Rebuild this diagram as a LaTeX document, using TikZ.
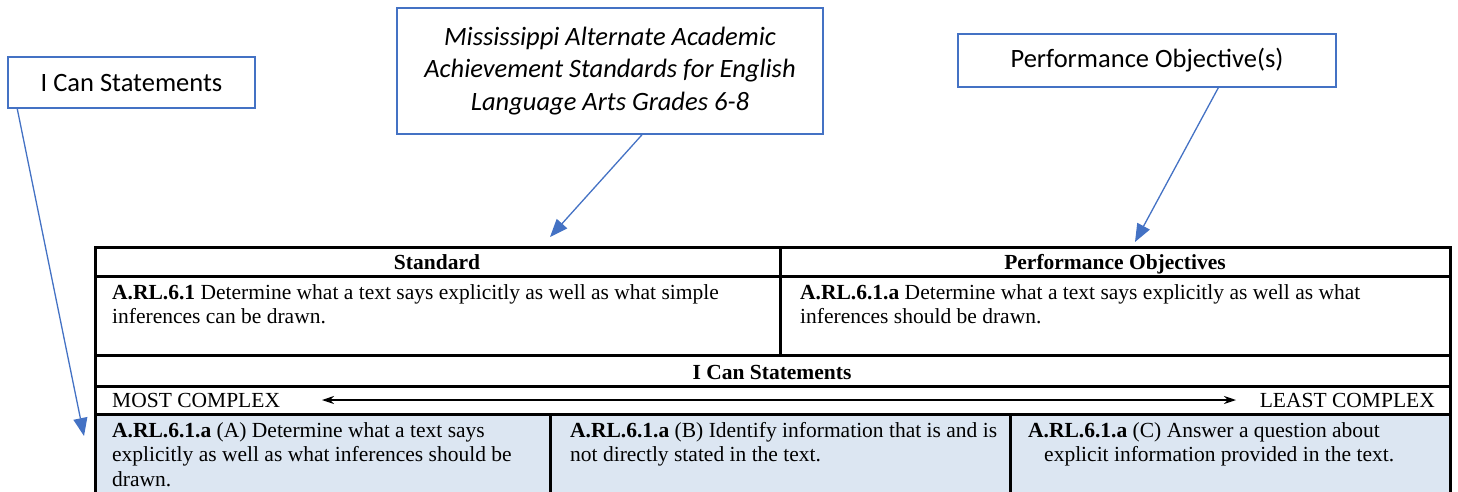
\documentclass[tikz,border=0pt]{standalone}
\usepackage{fontspec}
\setmainfont{Liberation Serif}
\newfontfamily\calibri{Carlito}
\usetikzlibrary{arrows.meta,calc}
\definecolor{callblue}{HTML}{4472C4}
\definecolor{cellblue}{HTML}{DCE6F2}
\begin{document}
\begin{tikzpicture}[x=1pt,y=-1pt,
  callout/.style={draw=callblue, line width=1.4pt, fill=white, inner sep=0pt, align=center,
    font=\calibri\fontsize{26.5}{32.5}\selectfont},
  pointer/.style={draw=callblue, line width=1.3pt, -{Triangle[length=18pt,width=14pt]}},
  rule/.style={line width=3pt},
  txt/.style={anchor=base west, inner sep=0pt, font=\fontsize{21.5}{24.5}\selectfont},
  head/.style={anchor=base, inner sep=0pt, font=\bfseries\fontsize{21.5}{24.5}\selectfont},
  span/.style={line width=1.2pt, {Stealth[length=12pt,width=8pt]}-{Stealth[length=12pt,width=8pt]}},
  ]
\useasboundingbox (0,0) rectangle (1458,491);
% table background and rules
\fill[cellblue] (95,414) rectangle (1450,500);
\draw[rule] (95,500) -- (95,247) -- (1450,247) -- (1450,500);
\draw[rule] (95,276) -- (1450,276);
\draw[rule] (95,355) -- (1450,355);
\draw[rule] (95,386) -- (1450,386);
\draw[rule] (95,414) -- (1450,414);
\draw[rule] (780,247) -- (780,355);
\draw[rule] (550,414) -- (550,500);
\draw[rule] (1010,414) -- (1010,500);
% headers
\node[head] (hstd) at (437,269) {Standard};
\node[head] (hpo) at (1115,269) {Performance Objectives};
\node[head] (hics) at (772,379) {I Can Statements};
% row 2
\node[txt] (s1) at (112,299) {\textbf{A.RL.6.1} Determine what a text says explicitly as well as what simple};
\node[txt] (s2) at (112,323.5) {inferences can be drawn.};
\node[txt] (p1) at (800,299) {\textbf{A.RL.6.1.a} Determine what a text says explicitly as well as what};
\node[txt] (p2) at (800,323.5) {inferences should be drawn.};
% complexity row
\node[txt] (most) at (112,407) {MOST COMPLEX};
\node[txt, anchor=base east] (least) at (1435,407) {LEAST COMPLEX};
\coordinate (al) at (322,400);
\coordinate (ar) at (1236,400);
\draw[span] (al) -- (ar);
% bottom row
\node[txt] (a1) at (112,437) {\textbf{A.RL.6.1.a} (A) Determine what a text says};
\node[txt] (a2) at (112,461.5) {explicitly as well as what inferences should be};
\node[txt] (a3) at (112,486) {drawn.};
\node[txt] (b1) at (570,437) {\textbf{A.RL.6.1.a} (B) Identify information that is and is};
\node[txt] (b2) at (570,461.5) {not directly stated in the text.};
\node[txt] (c1) at (1028,437) {\textbf{A.RL.6.1.a} (C) Answer a question about};
\node[txt] (c2) at (1044,461.5) {explicit information provided in the text.};
% callouts
\node[callout, minimum width=247pt, minimum height=51pt] (ics) at (131.5,82.5) {I Can Statements};
\node[callout, minimum width=426pt, minimum height=126pt, font=\calibri\itshape\fontsize{26.5}{32.5}\selectfont] (mis) at (610,71)
  {Mississippi Alternate Academic\\Achievement Standards for English\\Language Arts Grades 6-8};
\node[callout, minimum width=378pt, minimum height=53pt] (perf) at (1147,60.5) {Performance Objective(s)};
\coordinate (tipics) at (84,436);
\coordinate (tipmis) at (550,237);
\coordinate (tipperf) at (1135,242);
\draw[pointer] ($(ics.south west)!0.04!(ics.south east)$) -- (tipics);
\draw[pointer] ($(mis.south west)!0.575!(mis.south east)$) -- (tipmis);
\draw[pointer] ($(perf.south west)!0.688!(perf.south east)$) -- (tipperf);
\end{tikzpicture}
\end{document}
